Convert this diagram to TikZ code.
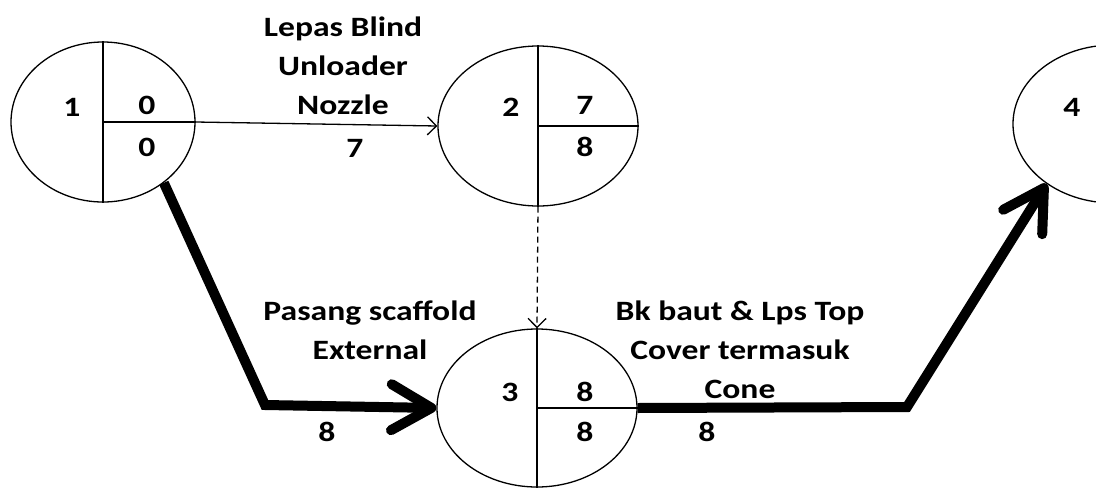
\documentclass[tikz,border=0pt]{standalone}
\usepackage{fontspec}
\setmainfont{Carlito}[FakeStretch=1.2]
\usetikzlibrary{shapes.geometric,arrows.meta}

\begin{document}
\begin{tikzpicture}[x=1pt,y=-1pt,
		font=\bfseries\fontsize{28}{39}\selectfont,
		event/.style={draw,ellipse,line width=1.3pt,minimum width=200pt,minimum height=160pt,inner sep=0pt},
		plain/.style={line width=1.3pt,-{Straight Barb[length=9pt,width=18pt]}},
		crit/.style={line width=10pt,-{Straight Barb[length=40pt,width=46pt,round]}}]
		\useasboundingbox (0,0) rectangle (1096,488);
		% kejadian
		\node[event,minimum width=184pt] (n1) at (103,122) {};
		\node[event] (n2) at (538,126) {};
		\node[event,minimum height=158pt] (n3) at (537,408) {};
		\node[event,minimum height=158pt] (n4) at (1113,124) {};
		\foreach \n in {n1,n2,n3} {
			\draw[line width=1.3pt] (\n.north) -- (\n.south);
			\draw[line width=1.3pt] (\n.center) -- (\n.east);
		}
		% angka dalam kejadian
		\node (n1no) at ([shift={(-31,-15)}]n1.center) {1};
		\node (n1es) at ([shift={(44,-17)}]n1.center) {0};
		\node (n1ls) at ([shift={(44,25)}]n1.center) {0};
		\node (n2no) at ([shift={(-27,-19)}]n2.center) {2};
		\node (n2es) at ([shift={(47,-21)}]n2.center) {7};
		\node (n2ls) at ([shift={(47,21)}]n2.center) {8};
		\node (n3no) at ([shift={(-27,-16)}]n3.center) {3};
		\node (n3es) at ([shift={(48,-16)}]n3.center) {8};
		\node (n3ls) at ([shift={(48,24)}]n3.center) {8};
		\node (n4no) at ([shift={(-41,-17)}]n4.center) {4};
		% kegiatan
		\coordinate (c1) at (265,405);
		\coordinate (c2) at (907,407);
		\draw[plain] (n1.east) -- (n2.west);
		\draw[plain,dash pattern=on 6pt off 4pt] (n2.south) -- (n3.north);
		\draw[crit] (n1.-45) -- (c1) -- (n3.west);
		\draw[crit] (n3.east) -- (c2) -- (n4.222);
		\node[align=center] (a12) at (343,66) {Lepas Blind\\Unloader\\Nozzle};
		\node (d12) at (355,148) {7};
		\node[align=center] (a13) at (370,330) {Pasang scaffold\\External};
		\node (d13) at (327,432) {8};
		\node[align=center] (a34) at (740,350) {Bk baut \& Lps Top\\Cover termasuk\\Cone};
		\node (d34) at (707,432) {8};
\end{tikzpicture}
\end{document}
